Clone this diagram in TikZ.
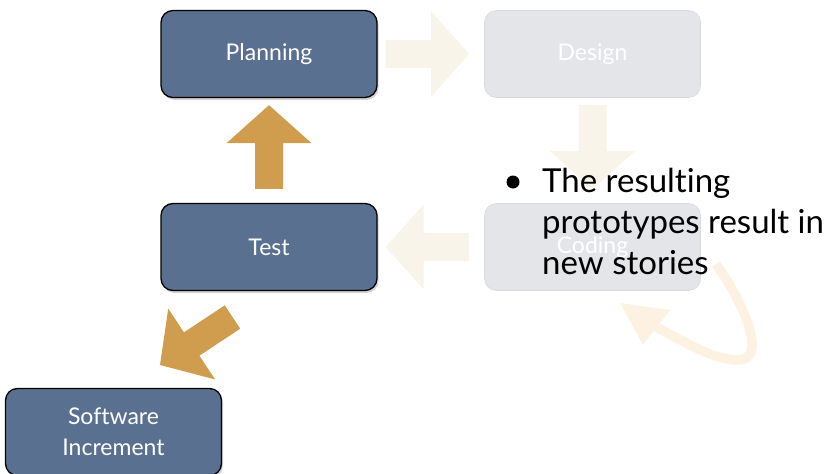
\documentclass[tikz,border=0pt]{standalone}
\usepackage{fontspec}
\setmainfont{Lato}[Ligatures={NoCommon,NoRequired,NoContextual}]
\usetikzlibrary{calc,shadows}
\definecolor{slate}{HTML}{5A7090}
\definecolor{gold}{HTML}{CF9D4D}
\definecolor{fadebox}{HTML}{E4E5E8}
\definecolor{fadeline}{HTML}{D9DADD}
\definecolor{fadearrow}{HTML}{F9F4EA}
\definecolor{fadecurve}{HTML}{FDF2E1}
\newcommand{\blockarrow}[3]{%
  \coordinate (ba-h) at ($(#2)!38pt!(#1)$);
  \fill[#3] ($(#1)!14pt!90:(#2)$) -- ($(ba-h)!14pt!90:(#2)$) -- ($(ba-h)!42.5pt!90:(#2)$) -- (#2)
    -- ($(ba-h)!42.5pt!-90:(#2)$) -- ($(ba-h)!14pt!-90:(#2)$) -- ($(#1)!14pt!-90:(#2)$) -- cycle;}
\tikzset{
  stagebox/.style={rounded corners=12pt, minimum width=216pt, minimum height=87pt,
    inner sep=0pt, text=white, align=center, font=\fontsize{23}{31}\selectfont},
  activebox/.style={stagebox, draw=black, line width=1.3pt, fill=slate,
    drop shadow={shadow xshift=1.5pt, shadow yshift=-2.5pt, opacity=0.35}},
  fadedbox/.style={stagebox, draw=fadeline, line width=0.6pt, fill=fadebox},
  bullettext/.style={font=\fontsize{33}{41}\selectfont, align=left, inner sep=0pt, text=black}
}
\begin{document}
\begin{tikzpicture}[x=1pt,y=-1pt]
\useasboundingbox (0,0) rectangle (833,474);
% boxes
\node[activebox] (plan) at (269,54) {Planning};
\node[fadedbox]  (design) at (592.5,54) {Design};
\node[activebox] (test) at (269,247) {Test};
\node[fadedbox]  (coding) at (592.5,247) {Coding};
\node[activebox] (soft) at (113.5,432) {Software\\Increment};
% connector end points
\coordinate (r1) at ($(plan.east)+(8,0)$);
\coordinate (r2) at ($(design.west)+(-15,0)$);
\coordinate (d1) at ($(design.south)+(0,7)$);
\coordinate (d2) at ($(coding.north)+(0,-14)$);
\coordinate (l1) at ($(coding.west)+(-15,0)$);
\coordinate (l2) at ($(test.east)+(8,0)$);
\coordinate (u1) at ($(test.north)+(0,-14)$);
\coordinate (u2) at ($(plan.south)+(0,7)$);
\coordinate (g1) at (232.5,317);
\coordinate (g2) at (160,365);
% block arrows
\blockarrow{r1}{r2}{fadearrow}
\blockarrow{d1}{d2}{fadearrow}
\blockarrow{l1}{l2}{fadearrow}
\blockarrow{u1}{u2}{gold}
\blockarrow{g1}{g2}{gold}
% curved loop arrow
\coordinate (c0) at (716,264);
\coordinate (c1) at (656,327);
\draw[fadecurve, line width=9.5pt] (c0) .. controls (745,305) and (768,360) .. (738,360)
  .. controls (715,360) and (690,345) .. (c1);
\fill[fadecurve] (620,303) -- (670,310) -- (643,345) -- cycle;
% bullet text
\fill[black] (513,182) circle (6.5pt);
\node[bullettext, anchor=base west] (note) at (542,274) {The resulting\\prototypes result in\\new stories};
\end{tikzpicture}
\end{document}
